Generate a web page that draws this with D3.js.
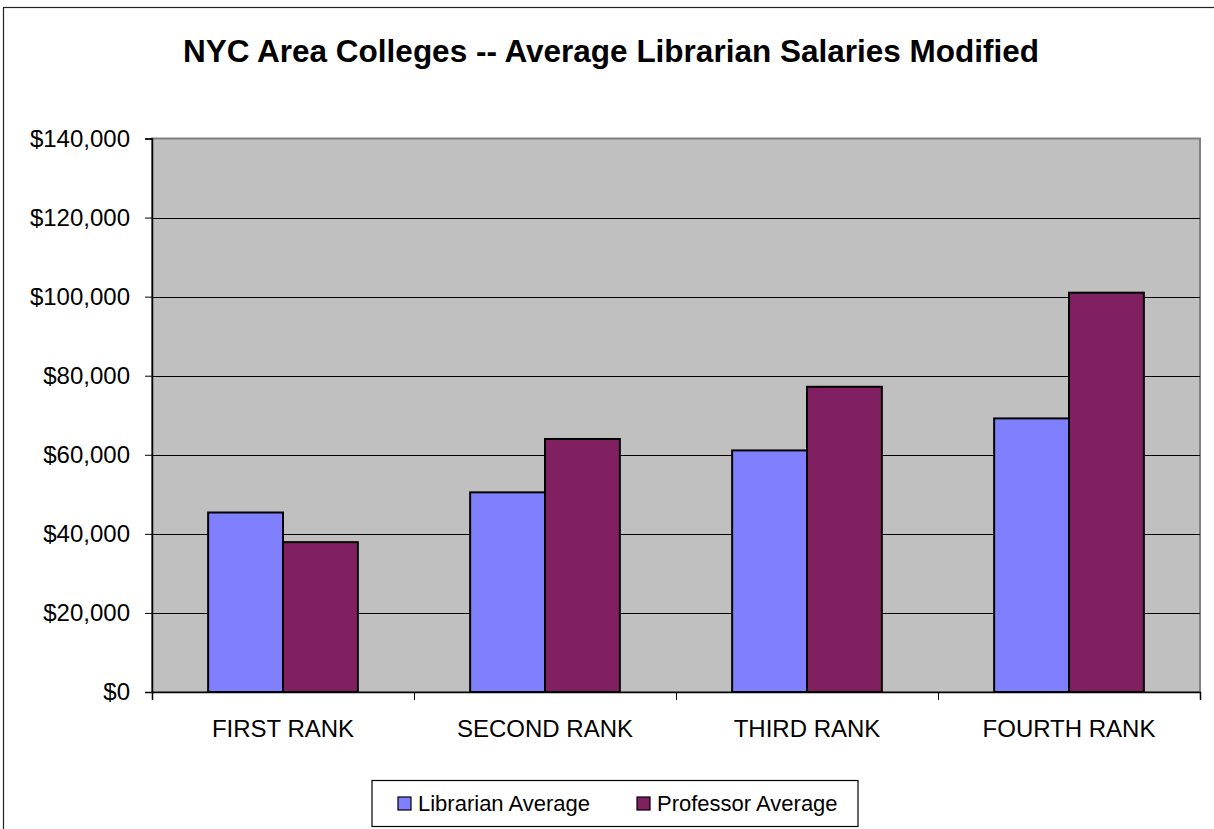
<!DOCTYPE html>
<html>
<head>
<meta charset="utf-8">
<script src="https://cdn.jsdelivr.net/npm/d3@7"></script>
<style>
  html, body { margin: 0; padding: 0; background: #fff; }
  svg { display: block; font-family: "Liberation Sans", Arial, sans-serif; }
</style>
</head>
<body>
<script>
// data
const categories = ["FIRST RANK", "SECOND RANK", "THIRD RANK", "FOURTH RANK"];
const seriesNames = ["Librarian Average", "Professor Average"];
const librarian = [45400, 50500, 61100, 69200];
const professor = [37900, 64000, 77200, 101000];
const yTicks = [0, 20000, 40000, 60000, 80000, 100000, 120000, 140000];
const colors = ["#8080FF", "#802060"];

/*------------Size---------------*/
const W = 1214, H = 829;
const plot = { l: 152, r: 1200, t: 138.5, b: 692 };

const svg = d3.select("body").append("svg")
  .attr("width", W)
  .attr("height", H);

// outer chart frame (right and bottom run off the picture)
svg.append("rect")
  .attr("x", 3.5).attr("y", 7.5)
  .attr("width", 1240).attr("height", 900)
  .attr("fill", "#fff")
  .attr("stroke", "#222").attr("stroke-width", 1.2);

svg.append("text")
  .attr("x", 611).attr("y", 62)
  .attr("text-anchor", "middle")
  .style("font-size", "31.5px").style("font-weight", "bold")
  .text("NYC Area Colleges -- Average Librarian Salaries Modified");

/*------------Scales---------------*/
const x = d3.scaleBand().domain(categories).range([plot.l, plot.r]);
const bw = x.bandwidth() / 3.5;            // 150% gap width
const x1 = d3.scaleBand().domain(seriesNames)
  .range([bw * 0.75, bw * 0.75 + bw * 2]);
const y = d3.scaleLinear().domain([0, 140000]).range([plot.b, plot.t]);

// plot area
svg.append("rect")
  .attr("x", plot.l).attr("y", plot.t)
  .attr("width", plot.r - plot.l).attr("height", plot.b - plot.t)
  .attr("fill", "#C0C0C0")
  .attr("stroke", "#808080").attr("stroke-width", 2);

// gridlines
svg.append("g")
  .selectAll("line")
  .data(yTicks.filter(v => v > 0 && v < 140000))
  .join("line")
  .attr("x1", plot.l).attr("x2", plot.r)
  .attr("y1", d => Math.round(y(d)) + 0.5).attr("y2", d => Math.round(y(d)) + 0.5)
  .attr("stroke", "#000").attr("stroke-width", 1.2);

// bars
const rows = categories.map((c, i) => ({ cat: c, vals: [librarian[i], professor[i]] }));
const groups = svg.append("g").selectAll("g")
  .data(rows)
  .join("g")
  .attr("transform", d => `translate(${x(d.cat)},0)`);

groups.selectAll("rect")
  .data(d => d.vals.map((v, i) => ({ name: seriesNames[i], v: v, i: i })))
  .join("rect")
  .attr("x", d => x1(d.name))
  .attr("width", x1.bandwidth())
  .attr("y", d => y(d.v))
  .attr("height", d => y(0) - y(d.v))
  .attr("fill", d => colors[d.i])
  .attr("stroke", "#000").attr("stroke-width", 2);

/*------------Axes---------------*/
const yAxis = svg.append("g")
  .attr("transform", `translate(${plot.l},0)`)
  .call(d3.axisLeft(y).tickValues(yTicks).tickSize(7).tickPadding(15)
    .tickFormat(d => "$" + d3.format(",")(d)));
yAxis.select(".domain").attr("stroke", "#000").attr("stroke-width", 1.5);
yAxis.selectAll(".tick line").attr("stroke", "#000");
yAxis.selectAll("text").style("font-size", "24px").attr("fill", "#000");

// category boundary ticks
const xb = d3.scaleLinear().domain([0, categories.length]).range([plot.l, plot.r]);
const xTicks = svg.append("g")
  .attr("transform", `translate(0,${plot.b})`)
  .call(d3.axisBottom(xb).ticks(categories.length).tickSize(8).tickFormat(""));
xTicks.select(".domain").attr("stroke", "#000").attr("stroke-width", 1.5);
xTicks.selectAll(".tick line").attr("stroke", "#000");

const xAxis = svg.append("g")
  .attr("transform", `translate(0,${plot.b})`)
  .call(d3.axisBottom(x).tickSize(0).tickPadding(28));
xAxis.select(".domain").remove();
xAxis.selectAll("text").style("font-size", "24px").attr("fill", "#000");

/*------------Legend---------------*/
const legend = svg.append("g");
legend.append("rect")
  .attr("x", 372).attr("y", 780.5)
  .attr("width", 486).attr("height", 46)
  .attr("fill", "#fff").attr("stroke", "#000").attr("stroke-width", 1.2);

const legX = [398, 637];
seriesNames.forEach((s, i) => {
  legend.append("rect")
    .attr("x", legX[i]).attr("y", 797)
    .attr("width", 13).attr("height", 13)
    .attr("fill", colors[i]).attr("stroke", "#000").attr("stroke-width", 1.2);
  legend.append("text")
    .attr("x", legX[i] + 20).attr("y", 811)
    .style("font-size", "22px")
    .text(s);
});
</script>
</body>
</html>
